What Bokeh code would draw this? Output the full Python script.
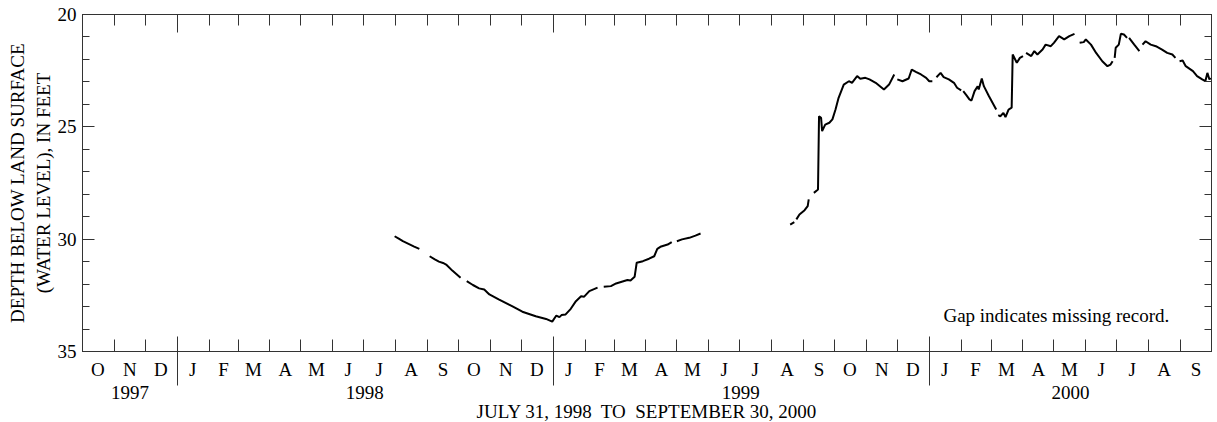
import numpy as np
import pandas as pd
from bokeh.plotting import figure
from bokeh.models import Range1d, LinearAxis, FixedTicker, Label, ColumnDataSource
from bokeh.embed import file_html
from bokeh.resources import INLINE

# ---------------- data ----------------
DATES = [
    "1998-07-31", "1998-08-04", "1998-08-08", "1998-08-14", "1998-08-19", "1998-08-24",
    "1998-08-29",
    "1998-09-03", "1998-09-08", "1998-09-12", "1998-09-16", "1998-09-19", "1998-09-25", "1998-10-03",
    "1998-10-06",
    "1998-10-09", "1998-10-15", "1998-10-21", "1998-10-26", "1998-10-31", "1998-11-09", "1998-11-22",
    "1998-12-02", "1998-12-15", "1998-12-25", "1998-12-31", "1999-01-04", "1999-01-07", "1999-01-09",
    "1999-01-13", "1999-01-18", "1999-01-23", "1999-01-28", "1999-01-31", "1999-02-05", "1999-02-13",
    "1999-02-16",
    "1999-02-19", "1999-02-26", "1999-03-03", "1999-03-14", "1999-03-17", "1999-03-21", "1999-03-23",
    "1999-03-29", "1999-04-04", "1999-04-09", "1999-04-12", "1999-04-15", "1999-04-22", "1999-04-26",
    "1999-04-28",
    "1999-05-01", "1999-05-06", "1999-05-13", "1999-05-19", "1999-05-24",
    "1999-07-01",
    "1999-08-19", "1999-08-23",
    "1999-08-24",
    "1999-08-25", "1999-08-28", "1999-09-02", "1999-09-05", "1999-09-06",
    "1999-09-08",
    "1999-09-11", "1999-09-15", "1999-09-16", "1999-09-18", "1999-09-19", "1999-09-22", "1999-09-26",
    "1999-09-29", "1999-10-02", "1999-10-05", "1999-10-10", "1999-10-15", "1999-10-18", "1999-10-23",
    "1999-10-26", "1999-10-31", "1999-11-04", "1999-11-10", "1999-11-18", "1999-11-23", "1999-11-28",
    "1999-11-29",
    "1999-12-01", "1999-12-06", "1999-12-12", "1999-12-15", "1999-12-19", "1999-12-24", "1999-12-29",
    "2000-01-01", "2000-01-04",
    "2000-01-06",
    "2000-01-08", "2000-01-12", "2000-01-15", "2000-01-20", "2000-01-25", "2000-01-28", "2000-02-01",
    "2000-02-02",
    "2000-02-03", "2000-02-06", "2000-02-09", "2000-02-11", "2000-02-14", "2000-02-17", "2000-02-18",
    "2000-02-21", "2000-02-23", "2000-02-28", "2000-03-06",
    "2000-03-07",
    "2000-03-08", "2000-03-10", "2000-03-13", "2000-03-15", "2000-03-18", "2000-03-21", "2000-03-22",
    "2000-03-26", "2000-03-29", "2000-04-01",
    "2000-04-02",
    "2000-04-04", "2000-04-09", "2000-04-12", "2000-04-15", "2000-04-20", "2000-04-23", "2000-04-28",
    "2000-05-01", "2000-05-06", "2000-05-11", "2000-05-16", "2000-05-21",
    "2000-05-23",
    "2000-05-26", "2000-05-30", "2000-06-01", "2000-06-06", "2000-06-11", "2000-06-17", "2000-06-22",
    "2000-06-25", "2000-06-27",
    "2000-06-28",
    "2000-06-29", "2000-06-30", "2000-07-03", "2000-07-05", "2000-07-08", "2000-07-11",
    "2000-07-12",
    "2000-07-13", "2000-07-18", "2000-07-23",
    "2000-07-24",
    "2000-07-26", "2000-07-29", "2000-08-03", "2000-08-08", "2000-08-14", "2000-08-19", "2000-08-24",
    "2000-08-27",
    "2000-08-29",
    "2000-08-31", "2000-09-03", "2000-09-06", "2000-09-13", "2000-09-17", "2000-09-22", "2000-09-25",
    "2000-09-27", "2000-09-29", "2000-09-30",
]

DEPTH_FT = [
    29.87, 29.98, 30.09, 30.22, 30.33, 30.43,
    None,
    30.76, 30.90, 31.00, 31.06, 31.13, 31.40, 31.72,
    None,
    31.87, 32.04, 32.19, 32.24, 32.46, 32.68, 32.98,
    33.23, 33.43, 33.55, 33.67, 33.40, 33.47, 33.38,
    33.35, 33.10, 32.76, 32.54, 32.56, 32.31, 32.16,
    None,
    32.12, 32.09, 31.97, 31.82, 31.84, 31.67, 31.05,
    30.98, 30.87, 30.76, 30.43, 30.34, 30.24, 30.13,
    None,
    30.09, 30.01, 29.94, 29.84, 29.75,
    None,
    29.35, 29.24,
    None,
    29.12, 28.90, 28.71, 28.53, 28.23,
    None,
    27.94, 27.79, 24.53, 24.60, 25.19, 24.90, 24.82,
    24.67, 24.23, 23.71, 23.12, 22.97, 23.04, 22.74,
    22.86, 22.82, 22.89, 23.04, 23.34, 23.12, 22.67,
    None,
    22.89, 22.97, 22.85, 22.45, 22.55, 22.67, 22.82,
    22.97, 22.97,
    None,
    22.79, 22.60, 22.79, 22.89, 23.04, 23.26, 23.38,
    None,
    23.41, 23.59, 23.78, 23.83, 23.41, 23.19, 23.34,
    22.85, 23.19, 23.64, 24.23,
    None,
    24.48, 24.53, 24.38, 24.57, 24.23, 24.15, 21.78,
    22.15, 21.93, 21.85,
    None,
    21.71, 21.85, 21.63, 21.78, 21.56, 21.34, 21.41,
    21.26, 20.96, 21.11, 20.96, 20.86,
    None,
    21.26, 21.23, 21.11, 21.34, 21.71, 22.08, 22.30,
    22.23, 22.08,
    None,
    21.93, 21.48, 21.34, 20.86, 20.89, 21.04,
    None,
    21.04, 21.34, 21.63,
    None,
    21.34, 21.19, 21.34, 21.41, 21.56, 21.71, 21.78,
    21.93,
    None,
    22.08, 22.05, 22.30, 22.52, 22.74, 22.89, 22.97,
    22.60, 22.89, 22.82,
]

MONTH_LETTERS = ["O", "N", "D",
                 "J", "F", "M", "A", "M", "J", "J", "A", "S", "O", "N", "D",
                 "J", "F", "M", "A", "M", "J", "J", "A", "S", "O", "N", "D",
                 "J", "F", "M", "A", "M", "J", "J", "A", "S"]
YEAR_LABELS = ["1997", "1998", "1999", "2000"]
Y_TICKS = [20, 25, 30, 35]
Y_MINOR_TICKS = list(range(20, 36))
X_TITLE = "JULY 31, 1998\u00a0 TO\u00a0 SEPTEMBER 30, 2000"
Y_TITLE = "DEPTH BELOW LAND SURFACE\n(WATER LEVEL), IN FEET"
NOTE = "Gap indicates missing record."

# ---------------- build ----------------
START = pd.Timestamp("1997-10-01")
END = pd.Timestamp("2000-10-01")


def day(s):
    return (pd.Timestamp(s) - START).days


xs = [day(d) for d in DATES]
ys = [np.nan if v is None else v for v in DEPTH_FT]
src = ColumnDataSource(dict(x=xs, y=ys))

month_starts = pd.date_range(START, END, freq="MS")
bounds = [(m - START).days for m in month_starts]
mids = [(a + b) // 2 for a, b in zip(bounds[:-1], bounds[1:])]
year_bounds = [day(f"{yr}-01-01") for yr in (1998, 1999, 2000)]
edges = [0] + year_bounds + [bounds[-1]]
year_mids = [(a + b) // 2 for a, b in zip(edges[:-1], edges[1:])]

FONT = "Liberation Serif"
FS = "19px"
AX = "#333333"

p = figure(frame_width=1129, frame_height=337,
           x_range=Range1d(0, bounds[-1]), y_range=Range1d(35, 20),
           x_axis_location=None, y_axis_location=None,
           output_backend="svg", toolbar_location=None,
           min_border_left=0, min_border_right=5, min_border_top=14, min_border_bottom=62)
p.margin = (0, 0, 0, 4)
p.grid.visible = False
p.outline_line_color = AX
p.background_fill_color = "white"
p.border_fill_color = "white"

p.line("x", "y", source=src, line_color="black", line_width=2)


def style(ax):
    ax.axis_line_color = AX
    ax.major_tick_line_color = AX
    ax.minor_tick_line_color = AX
    ax.major_label_text_font = FONT
    ax.major_label_text_font_size = FS
    ax.major_label_text_color = "black"
    ax.axis_label_text_font = FONT
    ax.axis_label_text_font_size = FS
    ax.axis_label_text_font_style = "normal"
    ax.axis_label_text_color = "black"


# left
ly = LinearAxis(ticker=FixedTicker(ticks=Y_TICKS, minor_ticks=Y_MINOR_TICKS), axis_label=Y_TITLE)
style(ly)
ly.major_tick_in = 12
ly.major_tick_out = 0
ly.minor_tick_in = 7
ly.minor_tick_out = 0
ly.major_label_standoff = 6
ly.axis_label_standoff = 1
p.add_layout(ly, "left")

# right (ticks only)
ry = LinearAxis(ticker=FixedTicker(ticks=Y_TICKS, minor_ticks=Y_MINOR_TICKS))
style(ry)
ry.major_tick_in = 12
ry.major_tick_out = 0
ry.minor_tick_in = 7
ry.minor_tick_out = 0
ry.major_label_text_font_size = "1px"
ry.major_label_standoff = 0
ry.major_label_overrides = {t: "" for t in Y_TICKS}
p.add_layout(ry, "right")

# top (ticks only)
tx = LinearAxis(ticker=FixedTicker(ticks=year_bounds, minor_ticks=bounds))
style(tx)
tx.major_tick_in = 18
tx.major_tick_out = 0
tx.minor_tick_in = 11
tx.minor_tick_out = 0
tx.major_label_text_font_size = "1px"
tx.major_label_standoff = 0
tx.major_label_overrides = {t: "" for t in year_bounds}
p.add_layout(tx, "above")

# bottom: month letters
bx = LinearAxis(ticker=FixedTicker(ticks=mids, minor_ticks=bounds))
style(bx)
bx.major_tick_in = 0
bx.major_tick_out = 0
bx.minor_tick_in = 12
bx.minor_tick_out = 0
bx.major_label_standoff = 7
bx.major_label_overrides = {m: l for m, l in zip(mids, MONTH_LETTERS)}
p.add_layout(bx, "below")

# bottom: years + title, with long year-boundary ticks
yx = LinearAxis(ticker=FixedTicker(ticks=year_mids, minor_ticks=year_bounds), axis_label=X_TITLE)
style(yx)
yx.axis_line_color = None
yx.major_tick_in = 0
yx.major_tick_out = 0
yx.minor_tick_in = 46
yx.minor_tick_out = 3
yx.major_label_standoff = 0
yx.axis_label_standoff = -1
yx.major_label_overrides = {m: l for m, l in zip(year_mids, YEAR_LABELS)}
p.add_layout(yx, "below")

p.add_layout(Label(x=day("2000-08-21"), y=33.4, text=NOTE, text_align="right",
                   text_baseline="middle", text_font=FONT, text_font_size=FS, text_color="black"))

open("out.html", "w").write(file_html(p, INLINE))
